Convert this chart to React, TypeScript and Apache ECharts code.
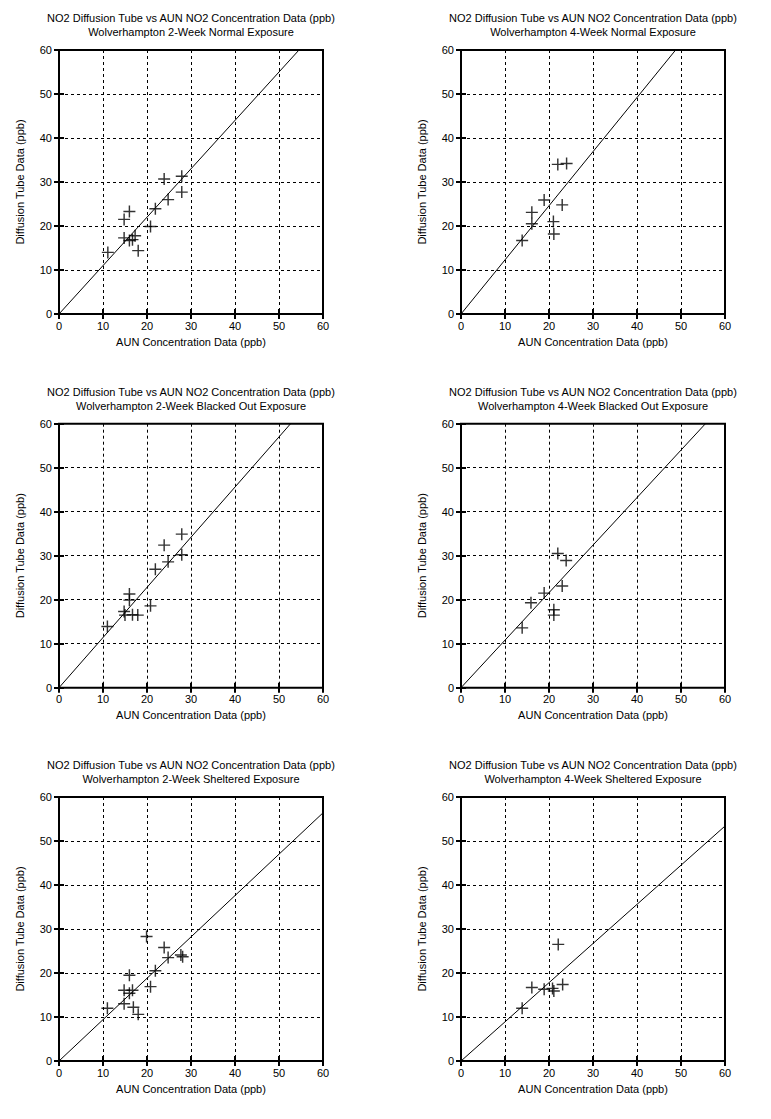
import React, { useEffect, useRef } from "react";
import * as echarts from "echarts";

const titleLine1 = "NO2 Diffusion Tube vs AUN NO2 Concentration Data (ppb)";
const panelSubtitles = [
  "Wolverhampton 2-Week Normal Exposure",
  "Wolverhampton 4-Week Normal Exposure",
  "Wolverhampton 2-Week Blacked Out Exposure",
  "Wolverhampton 4-Week Blacked Out Exposure",
  "Wolverhampton 2-Week Sheltered Exposure",
  "Wolverhampton 4-Week Sheltered Exposure",
];
const xAxisName = "AUN Concentration Data (ppb)";
const yAxisName = "Diffusion Tube Data (ppb)";

const normal2wk = [
  [11.1, 14.0], [14.8, 21.5], [16.0, 23.3], [14.8, 17.3], [16.0, 16.7], [16.7, 16.9],
  [17.3, 17.8], [18.0, 14.4], [20.8, 19.9], [21.9, 23.9], [23.9, 30.7], [24.8, 26.0],
  [27.9, 31.3], [27.9, 27.7],
];
const normal4wk = [
  [13.9, 16.7], [16.1, 20.5], [16.1, 23.1], [18.9, 25.9], [21.0, 21.0], [21.1, 18.2],
  [23.0, 24.8], [22.0, 34.0], [24.0, 34.2],
];
const blacked2wk = [
  [11.0, 13.9], [14.8, 17.3], [15.0, 16.5], [16.0, 21.3], [16.0, 19.9], [16.7, 16.6],
  [17.9, 16.5], [20.8, 18.6], [21.9, 26.9], [23.9, 32.4], [24.8, 28.6], [27.9, 34.9],
  [27.9, 30.2],
];
const blacked4wk = [
  [13.9, 13.6], [15.9, 19.3], [18.9, 21.5], [21.1, 17.7], [21.1, 16.5], [23.0, 23.1],
  [22.0, 30.5], [23.9, 28.9],
];
const sheltered2wk = [
  [11.0, 12.0], [14.8, 13.0], [14.8, 16.1], [16.0, 19.5], [16.0, 15.4], [16.7, 16.1],
  [16.9, 12.2], [18.0, 10.6], [19.9, 28.3], [20.8, 16.9], [21.9, 20.5], [23.9, 25.8],
  [24.8, 23.5], [27.7, 24.1], [28.1, 23.7],
];
const sheltered4wk = [
  [13.9, 12.0], [16.1, 16.7], [18.9, 16.3], [20.8, 16.5], [21.1, 15.9], [23.1, 17.4],
  [22.1, 26.5],
];
const panelData = [normal2wk, normal4wk, blacked2wk, blacked4wk, sheltered2wk, sheltered4wk];
const fitSlopes = [1.1, 1.23, 1.14, 1.08, 0.94, 0.89];
const AXIS_MIN = 0;
const AXIS_MAX = 60;
const AXIS_STEP = 10;

const FONT = "'Liberation Sans', Arial, Helvetica, sans-serif";
const CROSS = "path://M0,4.4L10,4.4L10,5.6L0,5.6Z M4.4,0L5.6,0L5.6,10L4.4,10Z";

export default function App() {
  const ref = useRef<HTMLDivElement>(null);
  useEffect(() => {
    document.body.style.margin = "0";
    const chart = echarts.init(ref.current!, null, { renderer: "svg" });
    const colLeft = [59, 461];
    const rowTop = [50, 423.7, 797];
    const W = 264;
    const H = 264;
    const grids: any[] = [];
    const titles: any[] = [];
    const xAxes: any[] = [];
    const yAxes: any[] = [];
    const series: any[] = [];
    const tickCommon = {
      show: true,
      inside: true,
      length: 5,
      lineStyle: { color: "#000", width: 2 },
    };
    for (let i = 0; i < 6; i++) {
      const r = Math.floor(i / 2);
      const c = i % 2;
      grids.push({
        left: colLeft[c],
        top: rowTop[r],
        width: W,
        height: H,
        show: true,
        borderColor: "#000",
        borderWidth: 2,
        backgroundColor: "transparent",
        containLabel: false,
      });
      titles.push({
        text: titleLine1 + "\n" + panelSubtitles[i],
        left: colLeft[c] + W / 2,
        top: rowTop[r] - 39,
        textAlign: "center",
        padding: 0,
        textStyle: {
          fontFamily: FONT,
          fontSize: 11,
          fontWeight: "normal",
          color: "#000",
          lineHeight: 14,
        },
      });
      const base = {
        type: "value",
        min: AXIS_MIN,
        max: AXIS_MAX,
        interval: AXIS_STEP,
        gridIndex: i,
        axisLine: { show: false },
        axisTick: tickCommon,
      };
      xAxes.push({
        ...base,
        position: "bottom",
        name: xAxisName,
        nameLocation: "middle",
        nameGap: 22,
        nameTextStyle: { fontFamily: FONT, fontSize: 11, color: "#000" },
        axisLabel: { fontFamily: FONT, fontSize: 11, color: "#000", margin: 6 },
        splitLine: { show: true, lineStyle: { color: "#000", width: 1, type: [3, 3] } },
      });
      xAxes.push({
        ...base,
        position: "top",
        axisLabel: { show: false },
        splitLine: { show: false },
      });
      yAxes.push({
        ...base,
        position: "left",
        name: yAxisName,
        nameLocation: "middle",
        nameGap: 34,
        nameTextStyle: { fontFamily: FONT, fontSize: 11, color: "#000" },
        axisLabel: { fontFamily: FONT, fontSize: 11, color: "#000", margin: 7 },
        splitLine: { show: true, lineStyle: { color: "#000", width: 1, type: [3, 3] } },
      });
      yAxes.push({
        ...base,
        position: "right",
        axisLabel: { show: false },
        splitLine: { show: false },
      });
      series.push({
        type: "scatter",
        xAxisIndex: i * 2,
        yAxisIndex: i * 2,
        data: panelData[i],
        symbol: CROSS,
        symbolSize: 12,
        itemStyle: { color: "#000" },
        silent: true,
      });
      series.push({
        type: "line",
        xAxisIndex: i * 2,
        yAxisIndex: i * 2,
        data: [
          [AXIS_MIN, AXIS_MIN * fitSlopes[i]],
          [AXIS_MAX, AXIS_MAX * fitSlopes[i]],
        ],
        showSymbol: false,
        symbol: "none",
        clip: true,
        lineStyle: { color: "#000", width: 1 },
        silent: true,
      });
    }
    chart.setOption({
      animation: false,
      backgroundColor: "#fff",
      title: titles,
      grid: grids,
      xAxis: xAxes,
      yAxis: yAxes,
      series,
    });
    return () => chart.dispose();
  }, []);
  return <div ref={ref} style={{ width: 771, height: 1119 }} />;
}
